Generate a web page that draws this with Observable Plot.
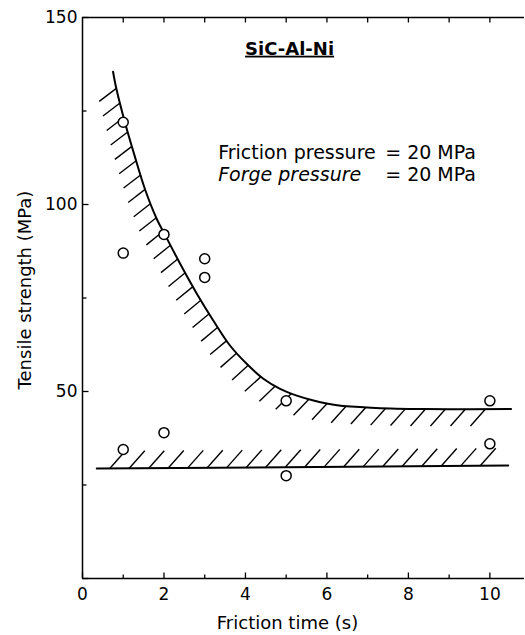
<!DOCTYPE html>
<html>
<head>
<meta charset="utf-8">
<script src="https://cdn.jsdelivr.net/npm/d3@7"></script>
<script src="https://cdn.jsdelivr.net/npm/@observablehq/plot@0.6"></script>
<style>
  html, body { margin: 0; padding: 0; background: #fff; }
  #chart svg { display: block; }
</style>
</head>
<body>
<div id="chart"></div>
<script>
// ---- data ----
const pointTime     = [1, 1, 1, 2, 2, 3, 3, 5, 5, 10, 10];
const pointStrength = [122, 87, 34.5, 92, 39, 85.5, 80.5, 47.5, 27.5, 47.5, 36];

const upperTime     = [0.75, 0.83, 1.04, 1.28, 1.53, 1.82, 2.02, 2.40, 2.81, 3.21, 3.62, 4.03, 4.44, 4.85, 5.26, 5.67, 6.25, 7.2, 8.4, 10.52];
const upperStrength = [135.5, 131, 122, 113, 104.2, 96.2, 92, 84.1, 76.1, 69.0, 62.3, 57.4, 53.4, 50.7, 48.9, 47.6, 46.3, 45.6, 45.3, 45.3];

const lowerTime     = [0.35, 10.45];
const lowerStrength = [29.4, 30.2];

const xTickLabels = [0, 2, 4, 6, 8, 10];
const xMinorTicks = [1, 3, 5, 7, 9];
const topTicks    = [1, 2, 3, 4, 5, 6, 7, 8, 9, 10];
const yTickLabels = [50, 100, 150];
const yMajorTicks = [0, 50, 100, 150];
const yMinorTicks = [25, 75, 125];

// ---- layout ----
const W = 525, H = 635;
const mL = 82, mR = 1, mT = 17, mB = 57;
const xDomain = [0, 10.85], yDomain = [0, 150];
// same mapping as the plot's scales (used to size hatches/ticks in pixels)
const sx = d3.scaleLinear(xDomain, [mL, W - mR]);
const sy = d3.scaleLinear(yDomain, [H - mB, mT]);

// hatch strokes placed along a boundary; spacing and direction follow the local steepness
function hatchAlong(xs, ys, start, stopX, vec, stepFn) {
  const px = xs.map(sx), py = ys.map(sy);
  const out = [];
  let acc = 0, next = start;
  for (let i = 0; i < px.length - 1; i++) {
    const ddx = px[i + 1] - px[i], ddy = py[i + 1] - py[i];
    const seg = Math.hypot(ddx, ddy);
    const steep = Math.min(1, Math.abs(Math.atan2(ddy, ddx)) / (72 * Math.PI / 180));
    while (next <= acc + seg) {
      const t = (next - acc) / seg;
      const bx = px[i] + t * ddx, by = py[i] + t * ddy;
      if (bx > stopX) return out;
      const [hx, hy] = vec(steep);
      out.push({x1: sx.invert(bx), y1: sy.invert(by), x2: sx.invert(bx + hx), y2: sy.invert(by + hy)});
      next += stepFn(steep);
    }
    acc += seg;
  }
  return out;
}

const upperHatch = hatchAlong(upperTime, upperStrength, 17, sx(10.05),
  s => [-15 - 2 * s, 17 - 4 * s], s => 20 - 5 * s);
const lowerHatch = hatchAlong(lowerTime, lowerStrength, 13, sx(10.05),
  () => [15.5, -17.5], () => 19.5);

const yPx = (v, d) => sy.invert(sy(v) + d);
const xPx = (v, d) => sx.invert(sx(v) + d);

const points = pointTime.map((t, i) => ({t, s: pointStrength[i]}));
const upper = upperTime.map((t, i) => ({t, s: upperStrength[i]}));
const lower = lowerTime.map((t, i) => ({t, s: lowerStrength[i]}));

const font = "DejaVu Sans, sans-serif";

const chart = Plot.plot({
  width: W, height: H,
  marginLeft: mL, marginRight: mR, marginTop: mT, marginBottom: mB,
  style: {fontFamily: font, fontSize: "17px", color: "black", background: "white"},
  x: {domain: xDomain, ticks: xTickLabels, tickSize: 0, tickPadding: 9, label: null, tickFormat: d => String(d)},
  y: {domain: yDomain, ticks: yTickLabels, tickSize: 0, tickPadding: 5, label: null, tickFormat: d => String(d)},
  marks: [
    // frame lines
    Plot.ruleY([0], {stroke: "black", strokeWidth: 1.5}),
    Plot.ruleY([150], {stroke: "black", strokeWidth: 1.5}),
    Plot.ruleX([0], {stroke: "black", strokeWidth: 1.5}),
    // inward ticks
    Plot.link(xTickLabels, {x1: d => d, x2: d => d, y1: 0, y2: yPx(0, -6), stroke: "black", strokeWidth: 1.3}),
    Plot.link(xMinorTicks, {x1: d => d, x2: d => d, y1: 0, y2: yPx(0, -4), stroke: "black", strokeWidth: 1.3}),
    Plot.link(topTicks, {x1: d => d, x2: d => d, y1: 150, y2: yPx(150, 5), stroke: "black", strokeWidth: 1.3}),
    Plot.link(yMajorTicks, {y1: d => d, y2: d => d, x1: 0, x2: xPx(0, 6), stroke: "black", strokeWidth: 1.3}),
    Plot.link(yMinorTicks, {y1: d => d, y2: d => d, x1: 0, x2: xPx(0, 4), stroke: "black", strokeWidth: 1.3}),
    // hatching
    Plot.link(upperHatch, {x1: "x1", y1: "y1", x2: "x2", y2: "y2", stroke: "black", strokeWidth: 1.4}),
    Plot.link(lowerHatch, {x1: "x1", y1: "y1", x2: "x2", y2: "y2", stroke: "black", strokeWidth: 1.4}),
    // boundary curves
    Plot.line(upper, {x: "t", y: "s", curve: "catmull-rom", stroke: "black", strokeWidth: 2}),
    Plot.line(lower, {x: "t", y: "s", stroke: "black", strokeWidth: 2}),
    // measured points
    Plot.dot(points, {x: "t", y: "s", r: 5, stroke: "black", strokeWidth: 1.5, fill: "white"}),
    // annotations
    Plot.text(["SiC-Al-Ni"], {x: 3.99, y: 141.6, text: d => d, textAnchor: "start", fontWeight: "bold", fontSize: 18, fontFamily: font}),
    Plot.text(["Friction pressure"], {x: 3.33, y: 113.9, text: d => d, textAnchor: "start", fontSize: 19, fontFamily: font}),
    Plot.text(["= 20 MPa"], {x: 7.43, y: 113.9, text: d => d, textAnchor: "start", fontSize: 19, fontFamily: font}),
    Plot.text(["Forge pressure"], {x: 3.33, y: 108.0, text: d => d, textAnchor: "start", fontSize: 19, fontStyle: "italic", fontFamily: font}),
    Plot.text(["= 20 MPa"], {x: 7.43, y: 108.0, text: d => d, textAnchor: "start", fontSize: 19, fontFamily: font}),
    // axis titles
    Plot.text(["Tensile strength (MPa)"], {frameAnchor: "left", text: d => d, rotate: -90, textAnchor: "middle", lineAnchor: "middle", dx: -57, dy: -8, fontSize: 18, fontFamily: font}),
    Plot.text(["Friction time (s)"], {frameAnchor: "bottom", text: d => d, textAnchor: "middle", lineAnchor: "middle", dx: -16, dy: 45, fontSize: 18, fontFamily: font})
  ]
});

d3.select(chart).selectAll("text")
  .filter(function () { return this.textContent === "SiC-Al-Ni"; })
  .style("text-decoration", "underline");

document.getElementById("chart").appendChild(chart);
</script>
</body>
</html>
